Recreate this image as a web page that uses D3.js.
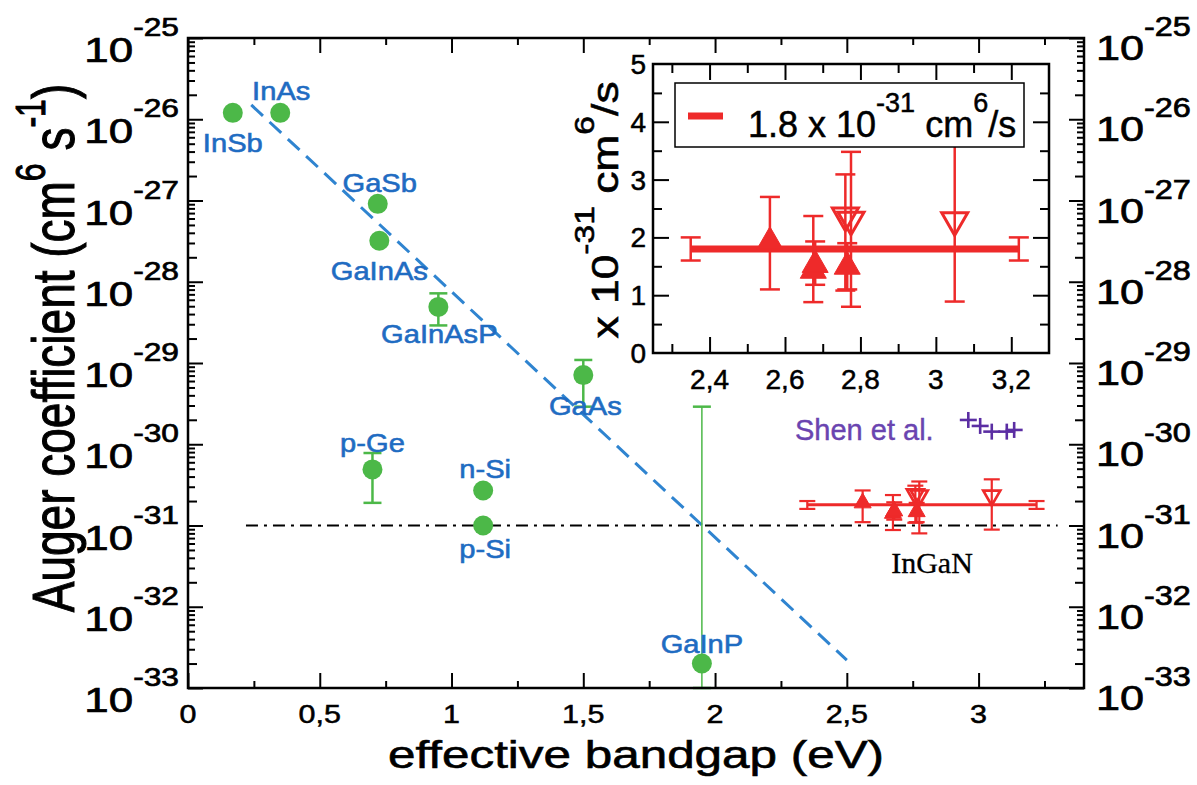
<!DOCTYPE html>
<html><head><meta charset="utf-8">
<script src="https://cdn.jsdelivr.net/npm/d3@7"></script>
<style>
body{margin:0;background:#fff}
svg{display:block}
</style>
</head><body>
<svg id="chart" width="1197" height="785"></svg>
<script>
// ---------------- DATA ----------------
const materials = ["InSb","InAs","GaSb","GaInAs","GaInAsP","GaAs","p-Ge","n-Si","p-Si","GaInP"];
const bandgap   = [0.17, 0.35, 0.72, 0.726, 0.95, 1.50, 0.70, 1.12, 1.12, 1.95];
const auger     = [1.2e-26, 1.2e-26, 9.1e-28, 3.2e-28, 4.9e-29, 7.1e-30, 4.9e-31, 2.7e-31, 1.0e-31, 2.0e-33];
const augerLow  = [null, null, null, null, 2.9e-29, 2.9e-30, 1.9e-31, null, null, 1.0e-33];
const augerHigh = [null, null, null, null, 7.2e-29, 1.09e-29, 7.8e-31, null, null, 2.9e-30];

const trendX = [0.24, 2.5];
const trendY = [1.5e-26, 2.2e-33];
const refX = [0.22, 3.30];
const refY = 1e-31;

// InGaN (units of 1e-31 cm^6/s)
const inganX    = [2.56, 2.675, 2.68, 2.765, 2.76, 2.775, 3.05];
const inganY    = [1.95, 1.45, 1.55, 1.52, 2.35, 2.28, 2.27];
const inganLow  = [1.10, 0.88, 1.18, 1.10, 1.08, 0.80, 0.89];
const inganHigh = [2.70, 2.37, 1.93, 1.90, 3.09, 3.48, 3.70];
const inganType = ["up","up","up","up","down","down","down"];
const fitValue = 1.8;
const fitX = [2.35, 3.22];
const fitLow = 1.6, fitHigh = 2.0;
const inganScale = 1e-31;

const shenX = [2.961, 3.006, 3.050, 3.107, 3.135];
const shenY = [1.99e-30, 1.68e-30, 1.43e-30, 1.43e-30, 1.50e-30];

const xTickValues = [0, 0.5, 1, 1.5, 2, 2.5, 3];
const yDecades = [-33,-32,-31,-30,-29,-28,-27,-26,-25];
const insetXTicks = [2.4, 2.6, 2.8, 3.0, 3.2];
const insetYTicks = [0, 1, 2, 3, 4, 5];
const legendLabel = [["1.8 x 10","n"],["-31","s"],[" cm","n"],["6","s"],["/s","n"]];

// ---------------- LAYOUT ----------------
const FONT = '"Liberation Sans", Arial, Helvetica, sans-serif';
const BLUE = "#1f6cc2", GREEN = "#4cb848", RED = "#ee2a2a", PURPLE = "#5b2ea3";
// label offsets (px) relative to point: [dx, baseline dy]
const labelOffsets = [[0,39],[1,-13],[2,-12],[0,39],[1,36],[2,40],[0,-17],[2,-12],[2,32],[0,-11]];

const svg = d3.select("#chart");
const X0 = 188, X1 = 1084, Y0 = 38, Y1 = 688;
const x = d3.scaleLinear().domain([0, 3.4]).range([X0, X1]);
const y = d3.scaleLog().domain([1e-33, 1e-25]).range([Y1, Y0]);

function rtext(parent, px, py, parts, o) {
  const g = parent.append("g")
    .attr("transform", `translate(${px},${py}) rotate(${o.rot||0}) scale(${o.sx||1},${o.sy||1})`);
  const col = o.fill || "#000";
  const t = g.append("text")
    .attr("font-family", o.family || FONT)
    .attr("font-size", o.size)
    .attr("text-anchor", o.anchor || "start")
    .attr("fill", col)
    .attr("stroke", col)
    .attr("stroke-width", o.sw === undefined ? 0.5 : o.sw);
  let cur = 0;
  parts.forEach(([s, k]) => {
    const want = k === "s" ? -(o.rise || o.size * 0.45) : 0;
    t.append("tspan").text(s)
      .attr("font-size", k === "s" ? (o.supSize || o.size * 0.7) : o.size)
      .attr("dy", want - cur);
    cur = want;
  });
  return g;
}

// ---------------- MAIN AXES ----------------
const allY = y.ticks();
const mant = v => Math.round(v / Math.pow(10, Math.floor(Math.log10(v) + 1e-9)));
const majY = allY.filter(v => mant(v) === 1);
const twoY = allY.filter(v => mant(v) === 2);
const minY = allY.filter(v => mant(v) > 2);

function styleAxis(g) {
  g.select(".domain").remove();
  g.selectAll("line").attr("stroke", "#000").attr("stroke-width", 2);
  g.selectAll("text").remove();
}
[[majY,15],[twoY,9],[minY,7]].forEach(([vals, len]) => {
  svg.append("g").attr("transform", `translate(${X0},0)`)
    .call(d3.axisLeft(y).tickValues(vals).tickSize(-len)).call(styleAxis);
  svg.append("g").attr("transform", `translate(${X1},0)`)
    .call(d3.axisRight(y).tickValues(vals).tickSize(-len)).call(styleAxis);
});
const xMaj = d3.range(0, 3.41, 0.5);
const xMin = d3.range(0.25, 3.4, 0.5);
[[xMaj,15],[xMin,7]].forEach(([vals, len]) => {
  svg.append("g").attr("transform", `translate(0,${Y1})`)
    .call(d3.axisBottom(x).tickValues(vals).tickSize(-len)).call(styleAxis);
  svg.append("g").attr("transform", `translate(0,${Y0})`)
    .call(d3.axisTop(x).tickValues(vals).tickSize(-len)).call(styleAxis);
});

// tick labels
xTickValues.forEach(v => {
  rtext(svg, x(v), Y1 + 35, [[String(v).replace(".", ","), "n"]], {size: 25, sx: 1.22, anchor: "middle"});
});
yDecades.forEach(d => {
  const ty = y(Math.pow(10, d));
  rtext(svg, 179, ty + 24, [["10","n"],[String(d),"s"]], {size: 36, supSize: 26, rise: 26, sx: 1.22, anchor: "end", sw: 0.7});
  rtext(svg, 1096, ty + 22, [["10","n"],[String(d),"s"]], {size: 36, supSize: 27, rise: 24, sx: 1.2, anchor: "start", sw: 0.7});
});

// axis titles
rtext(svg, 636, 768, [["effective bandgap (eV)","n"]], {size: 38, sx: 1.3, anchor: "middle", sw: 0.6});
rtext(svg, 74, 348, [["Auger coefficient (cm","n"],["6","s"],[" s","n"],["-1","s"],[")","n"]],
  {size: 46, supSize: 32, rise: 22, rot: -90, sy: 1.3, anchor: "middle", sw: 0.8});

// ---------------- MAIN DATA ----------------
svg.append("line")
  .attr("x1", x(refX[0])).attr("x2", x(refX[1])).attr("y1", y(refY)).attr("y2", y(refY))
  .attr("stroke", "#000").attr("stroke-width", 2.2).attr("stroke-dasharray", "12,6,3,6");
svg.append("line")
  .attr("x1", x(trendX[0])).attr("y1", y(trendY[0]))
  .attr("x2", x(trendX[1])).attr("y2", y(trendY[1]))
  .attr("stroke", "#2f84d0").attr("stroke-width", 3).attr("stroke-dasharray", "16,9");

const gErr = svg.append("g").attr("stroke", GREEN).attr("stroke-width", 2);
materials.forEach((m, i) => {
  if (augerLow[i] === null) return;
  const cx = x(bandgap[i]);
  gErr.append("line").attr("x1", cx).attr("x2", cx).attr("y1", y(augerLow[i])).attr("y2", y(augerHigh[i]))
    .attr("stroke-width", i === 9 ? 1.5 : 2.5);
  [augerLow[i], augerHigh[i]].forEach(v => {
    gErr.append("line").attr("x1", cx - 9).attr("x2", cx + 9).attr("y1", y(v)).attr("y2", y(v)).attr("stroke-width", 2.5);
  });
});
svg.append("g").selectAll("circle").data(materials).join("circle")
  .attr("cx", (d, i) => x(bandgap[i])).attr("cy", (d, i) => y(auger[i]))
  .attr("r", 10).attr("fill", GREEN);
materials.forEach((m, i) => {
  rtext(svg, x(bandgap[i]) + labelOffsets[i][0], y(auger[i]) + labelOffsets[i][1], [[m, "n"]],
    {size: 26, sx: 1.12, anchor: "middle", fill: BLUE, sw: 0.6});
});

function triPath(cx, cy, s, dir) {
  const h = s * 0.87;
  if (dir === "up") return `M${cx},${cy - h*0.6}L${cx + s/2},${cy + h*0.4}L${cx - s/2},${cy + h*0.4}Z`;
  return `M${cx},${cy + h*0.6}L${cx + s/2},${cy - h*0.4}L${cx - s/2},${cy - h*0.4}Z`;
}
function drawInGaN(g, sx, sy, scl, opt) {
  g.append("line").attr("x1", sx(fitX[0])).attr("x2", sx(fitX[1]))
    .attr("y1", sy(fitValue * scl)).attr("y2", sy(fitValue * scl))
    .attr("stroke", RED).attr("stroke-width", opt.fitW);
  fitX.forEach(fx => {
    const cx = sx(fx);
    g.append("line").attr("x1", cx).attr("x2", cx).attr("y1", sy(fitLow*scl)).attr("y2", sy(fitHigh*scl))
      .attr("stroke", RED).attr("stroke-width", opt.errW);
    [fitLow, fitHigh].forEach(v => g.append("line").attr("x1", cx - opt.cap).attr("x2", cx + opt.cap)
      .attr("y1", sy(v*scl)).attr("y2", sy(v*scl)).attr("stroke", RED).attr("stroke-width", opt.errW));
  });
  inganX.forEach((vx, i) => {
    const cx = sx(vx);
    g.append("line").attr("x1", cx).attr("x2", cx).attr("y1", sy(inganLow[i]*scl)).attr("y2", sy(inganHigh[i]*scl))
      .attr("stroke", RED).attr("stroke-width", opt.errW);
    [inganLow[i], inganHigh[i]].forEach(v => g.append("line").attr("x1", cx - opt.cap).attr("x2", cx + opt.cap)
      .attr("y1", sy(v*scl)).attr("y2", sy(v*scl)).attr("stroke", RED).attr("stroke-width", opt.errW));
  });
  inganX.forEach((vx, i) => {
    const filled = inganType[i] === "up";
    g.append("path").attr("d", triPath(sx(vx), sy(inganY[i]*scl), opt.tri, inganType[i]))
      .attr("fill", filled ? RED : "none").attr("stroke", RED).attr("stroke-width", filled ? 1 : opt.errW + 0.5);
  });
}
drawInGaN(svg.append("g"), x, y, inganScale, {fitW: 3, errW: 2.2, cap: 8, tri: 17});

const gShen = svg.append("g").attr("stroke", PURPLE).attr("stroke-width", 2.6);
shenX.forEach((vx, i) => {
  const cx = x(vx), cy = y(shenY[i]);
  gShen.append("line").attr("x1", cx - 8.5).attr("x2", cx + 8.5).attr("y1", cy).attr("y2", cy);
  gShen.append("line").attr("x1", cx).attr("x2", cx).attr("y1", cy - 8).attr("y2", cy + 8);
});
rtext(svg, 795, 440, [["Shen et al.","n"]], {size: 29, fill: "#6a44b0", sw: 0.4});
rtext(svg, 932, 573, [["InGaN","n"]], {size: 30, family: '"Liberation Serif", "Times New Roman", serif', anchor: "middle", sw: 0.3});

svg.append("rect").attr("x", X0).attr("y", Y0).attr("width", X1 - X0).attr("height", Y1 - Y0)
  .attr("fill", "none").attr("stroke", "#000").attr("stroke-width", 2.5);

// ---------------- INSET ----------------
const IX0 = 653, IX1 = 1049, IY0 = 64, IY1 = 353;
const xi = d3.scaleLinear().domain([2.25, 3.3]).range([IX0, IX1]);
const yi = d3.scaleLinear().domain([0, 5]).range([IY1, IY0]);
const ins = svg.append("g");
ins.append("rect").attr("x", IX0).attr("y", IY0).attr("width", IX1 - IX0).attr("height", IY1 - IY0).attr("fill", "#fff");

const ixMaj = insetXTicks, ixMin = [2.3, 2.5, 2.7, 2.9, 3.1];
const iyMaj = [1, 2, 3, 4], iyMin = [0.5, 1.5, 2.5, 3.5, 4.5];
[[ixMaj,16],[ixMin,9]].forEach(([vals, len]) => {
  ins.append("g").attr("transform", `translate(0,${IY1})`).call(d3.axisBottom(xi).tickValues(vals).tickSize(-len)).call(styleAxis);
  ins.append("g").attr("transform", `translate(0,${IY0})`).call(d3.axisTop(xi).tickValues(vals).tickSize(-len)).call(styleAxis);
});
[[iyMaj,16],[iyMin,9]].forEach(([vals, len]) => {
  ins.append("g").attr("transform", `translate(${IX0},0)`).call(d3.axisLeft(yi).tickValues(vals).tickSize(-len)).call(styleAxis);
  ins.append("g").attr("transform", `translate(${IX1},0)`).call(d3.axisRight(yi).tickValues(vals).tickSize(-len)).call(styleAxis);
});
insetXTicks.forEach(v => rtext(ins, xi(v), 389, [[String(v).replace(".", ","), "n"]], {size: 28, anchor: "middle"}));
insetYTicks.forEach(v => rtext(ins, 646, yi(v) + 10, [[String(v), "n"]], {size: 28, anchor: "end"}));
rtext(ins, 618, 210, [["x 10","n"],["-31","s"],[" cm","n"],["6","s"],["/s","n"]],
  {size: 37, supSize: 28, rise: 24, rot: -90, sx: 1.2, anchor: "middle", sw: 0.6});

drawInGaN(ins.append("g"), xi, yi, 1, {fitW: 7, errW: 2.5, cap: 10, tri: 26});

ins.append("rect").attr("x", 675).attr("y", 83).attr("width", 349).attr("height", 64)
  .attr("fill", "#fff").attr("stroke", "#000").attr("stroke-width", 1.5);
ins.append("line").attr("x1", 688).attr("x2", 723).attr("y1", 116).attr("y2", 116)
  .attr("stroke", RED).attr("stroke-width", 7);
rtext(ins, 748, 137, legendLabel, {size: 36, supSize: 27, rise: 25});

ins.append("rect").attr("x", IX0).attr("y", IY0).attr("width", IX1 - IX0).attr("height", IY1 - IY0)
  .attr("fill", "none").attr("stroke", "#000").attr("stroke-width", 2.5);
</script>
</body></html>
